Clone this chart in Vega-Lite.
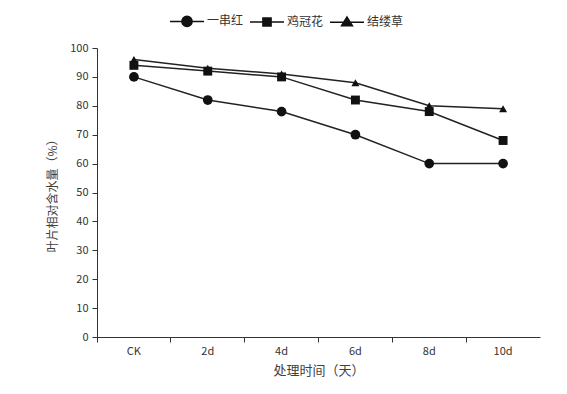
{
  "$schema": "https://vega.github.io/schema/vega-lite/v6.json",
  "autosize": "none",
  "width": 443,
  "height": 289,
  "padding": {"left": 97, "top": 48, "right": 27, "bottom": 57},
  "background": "white",
  "config": {
    "view": {"stroke": null},
    "font": "Noto Sans CJK SC",
    "axis": {"labelFont": "Noto Sans CJK SC", "titleFont": "Noto Sans CJK SC", "labelColor": "#333333", "titleColor": "#404040", "domainColor": "#333333", "tickColor": "#333333", "labelFontSize": 11, "titleFontSize": 12, "titleFontWeight": "normal", "grid": false, "tickSize": 5}
  },
  "data": {
    "values": [
      {"t": "CK", "s": "一串红", "v": 90},
      {"t": "2d", "s": "一串红", "v": 82},
      {"t": "4d", "s": "一串红", "v": 78},
      {"t": "6d", "s": "一串红", "v": 70},
      {"t": "8d", "s": "一串红", "v": 60},
      {"t": "10d", "s": "一串红", "v": 60},
      {"t": "CK", "s": "鸡冠花", "v": 94},
      {"t": "2d", "s": "鸡冠花", "v": 92},
      {"t": "4d", "s": "鸡冠花", "v": 90},
      {"t": "6d", "s": "鸡冠花", "v": 82},
      {"t": "8d", "s": "鸡冠花", "v": 78},
      {"t": "10d", "s": "鸡冠花", "v": 68},
      {"t": "CK", "s": "结缕草", "v": 96},
      {"t": "2d", "s": "结缕草", "v": 93},
      {"t": "4d", "s": "结缕草", "v": 91},
      {"t": "6d", "s": "结缕草", "v": 88},
      {"t": "8d", "s": "结缕草", "v": 80},
      {"t": "10d", "s": "结缕草", "v": 79}
    ]
  },
  "encoding": {
    "y": {"field": "v", "type": "quantitative", "scale": {"domain": [0, 100], "nice": false}, "axis": {"values": [0,10,20,30,40,50,60,70,80,90,100], "title": "叶片相对含水量（%）", "titlePadding": 10, "labelPadding": 4}}
  },
  "layer": [
    {
      "mark": {"type": "line", "color": "#222222", "strokeWidth": 1.5},
      "encoding": {
        "x": {"field": "t", "type": "ordinal", "sort": ["CK","2d","4d","6d","8d","10d"], "scale": {"type": "band", "paddingInner": 0, "paddingOuter": 0}, "axis": {"orient": "bottom", "bandPosition": 0, "labels": false, "title": null, "domain": true, "ticks": true}},
        "detail": {"field": "s"}
      }
    },
    {
      "mark": {"type": "point", "filled": true, "color": "#111111", "opacity": 1},
      "encoding": {
        "x": {"field": "t", "type": "ordinal", "sort": ["CK","2d","4d","6d","8d","10d"], "scale": {"type": "band", "paddingInner": 0, "paddingOuter": 0}, "axis": {"orient": "bottom", "bandPosition": 0.5, "labelAngle": 0, "ticks": false, "domain": false, "title": "处理时间（天）", "titleFontSize": 13, "labelPadding": 8, "titlePadding": 8}},
        "shape": {"field": "s", "type": "nominal", "scale": {"domain": ["一串红","鸡冠花","结缕草"], "range": ["circle", "square", "triangle-up"]}, "legend": null},
        "size": {"field": "s", "type": "nominal", "scale": {"domain": ["一串红","鸡冠花","结缕草"], "range": [95, 64, 130]}, "legend": null}
      }
    },
    {
      "mark": {"type": "point", "filled": false, "color": "#111111", "strokeWidth": 1.5, "opacity": 0, "size": 1156},
      "encoding": {
        "x": {"field": "t", "type": "ordinal", "sort": ["CK","2d","4d","6d","8d","10d"], "scale": {"type": "band", "paddingInner": 0, "paddingOuter": 0}, "axis": null},
        "shape": {"field": "s", "type": "nominal",
          "scale": {"domain": ["一串红","鸡冠花","结缕草"], "range": [
            "M -1 0 L 1 0 Z M 0.3 0 A 0.3 0.3 0 1 1 -0.3 0 A 0.3 0.3 0 1 1 0.3 0 Z",
            "M -1 0 L 1 0 Z M -0.24 -0.24 L 0.24 -0.24 L 0.24 0.24 L -0.24 0.24 Z",
            "M -1 0 L 1 0 Z M 0 -0.3 L 0.32 0.22 L -0.32 0.22 Z"
          ]},
          "legend": {"title": null, "orient": "none", "legendX": 72, "legendY": -45, "direction": "horizontal", "labelFontSize": 12, "labelColor": "#333333", "labelFont": "Noto Sans CJK SC", "labelOffset": 2, "columnPadding": 3, "symbolSize": 1156, "symbolOpacity": 1, "symbolStrokeWidth": 1.5}
        }
      }
    },
    {
      "mark": {"type": "point", "filled": true, "color": "#111111", "opacity": 0, "size": 1156},
      "encoding": {
        "x": {"field": "t", "type": "ordinal", "sort": ["CK","2d","4d","6d","8d","10d"], "scale": {"type": "band", "paddingInner": 0, "paddingOuter": 0}, "axis": null},
        "shape": {"field": "s", "type": "nominal",
          "scale": {"domain": ["一串红","鸡冠花","结缕草"], "range": [
            "M -1 0 Z M 0.3 0 A 0.3 0.3 0 1 1 -0.3 0 A 0.3 0.3 0 1 1 0.3 0 Z",
            "M -1 0 Z M -0.24 -0.24 L 0.24 -0.24 L 0.24 0.24 L -0.24 0.24 Z",
            "M -1 0 Z M 0 -0.3 L 0.32 0.22 L -0.32 0.22 Z"
          ]},
          "legend": {"title": null, "orient": "none", "legendX": 72, "legendY": -45, "direction": "horizontal", "labelFontSize": 12, "labelColor": "rgba(0,0,0,0)", "labelFont": "Noto Sans CJK SC", "labelOffset": 2, "columnPadding": 3, "symbolSize": 1156, "symbolOpacity": 1}
        }
      }
    }
  ],
  "resolve": {"scale": {"shape": "independent", "size": "independent"}, "axis": {"x": "independent"}}
}
